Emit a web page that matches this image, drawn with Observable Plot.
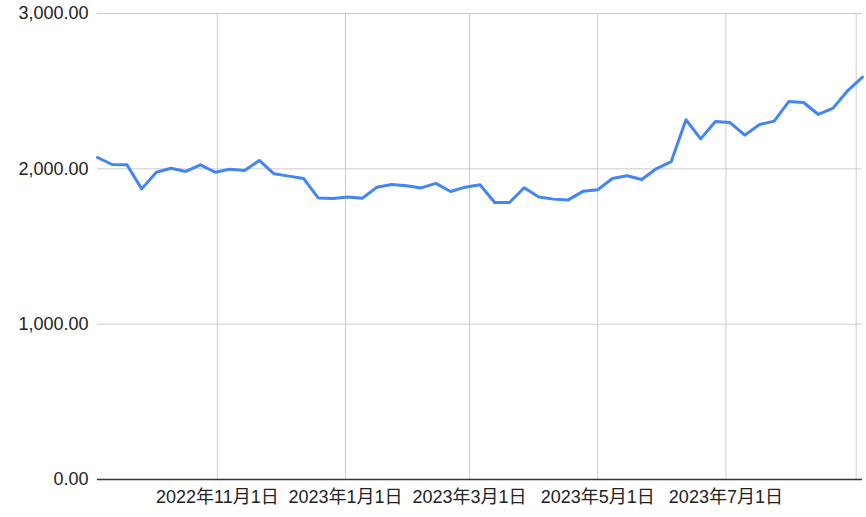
<!DOCTYPE html>
<html>
<head>
<meta charset="utf-8">
<script src="https://cdn.jsdelivr.net/npm/d3@7"></script>
<script src="https://cdn.jsdelivr.net/npm/@observablehq/plot@0.6"></script>
<style>
body { margin: 0; background: #fff; }
</style>
</head>
<body>
<div id="chart"></div>
<script>
const dates = [
  "2022-09-05","2022-09-12","2022-09-19","2022-09-26","2022-10-03","2022-10-10","2022-10-17","2022-10-24","2022-10-31",
  "2022-11-07","2022-11-14","2022-11-21","2022-11-28","2022-12-05","2022-12-12","2022-12-19","2022-12-26",
  "2023-01-02","2023-01-09","2023-01-16","2023-01-23","2023-01-30","2023-02-06","2023-02-13","2023-02-20","2023-02-27",
  "2023-03-06","2023-03-13","2023-03-20","2023-03-27","2023-04-03","2023-04-10","2023-04-17","2023-04-24",
  "2023-05-01","2023-05-08","2023-05-15","2023-05-22","2023-05-29","2023-06-05","2023-06-12","2023-06-19","2023-06-26",
  "2023-07-03","2023-07-10","2023-07-17","2023-07-24","2023-07-31","2023-08-07","2023-08-14","2023-08-21","2023-08-28",
  "2023-09-04"
];
const values = [
  2073, 2028, 2026, 1871, 1978, 2004, 1983, 2026, 1978, 1998,
  1989, 2054, 1968, 1953, 1938, 1813, 1809, 1818, 1811, 1882,
  1899, 1891, 1877, 1906, 1854, 1882, 1897, 1783, 1783, 1878,
  1818, 1805, 1800, 1855, 1865, 1938, 1955, 1931, 2002, 2047,
  2316, 2193, 2305, 2298, 2217, 2285, 2307, 2434, 2427, 2350,
  2391, 2504, 2590
];
const xGridDates = ["2022-11-01","2023-01-01","2023-03-01","2023-05-01","2023-07-01","2023-09-01"];
const xTickDates = ["2022-11-01","2023-01-01","2023-03-01","2023-05-01","2023-07-01"];
const yTicks = [0, 1000, 2000, 3000];

const data = dates.map((d, i) => ({date: new Date(d + "T00:00:00Z"), value: values[i]}));
const gridX = xGridDates.map(d => new Date(d + "T00:00:00Z"));
const tickX = xTickDates.map(d => new Date(d + "T00:00:00Z"));
const fmtDate = d => `${d.getUTCFullYear()}年${d.getUTCMonth() + 1}月${d.getUTCDate()}日`;

const chart = Plot.plot({
  width: 866,
  height: 517,
  marginLeft: 97,
  marginRight: 4,
  marginTop: 13,
  marginBottom: 38,
  style: {fontFamily: "'Liberation Sans', Arial, 'Noto Sans CJK JP', sans-serif", fontSize: "18px", color: "#222", background: "#fff"},
  x: {type: "utc", domain: [new Date("2022-09-05T00:00:00Z"), new Date("2023-09-04T00:00:00Z")]},
  y: {domain: [0, 3000]},
  marks: [
    Plot.gridY(yTicks.filter(v => v > 0), {stroke: "#cccccc", strokeOpacity: 1, strokeWidth: 1}),
    Plot.gridX(gridX, {stroke: "#cccccc", strokeOpacity: 1, strokeWidth: 1}),
    Plot.axisY(yTicks, {tickSize: 0, tickPadding: 9, tickFormat: d3.format(",.2f"), label: null, fontSize: 18}),
    Plot.axisX(tickX, {tickSize: 0, tickPadding: 11, tickFormat: fmtDate, label: null, fontSize: 18}),
    Plot.ruleY([0], {stroke: "#333333", strokeWidth: 1.5}),
    Plot.line(data, {x: "date", y: "value", stroke: "#4285F4", strokeWidth: 3, strokeLinejoin: "round"})
  ]
});
document.getElementById("chart").appendChild(chart);
</script>
</body>
</html>
